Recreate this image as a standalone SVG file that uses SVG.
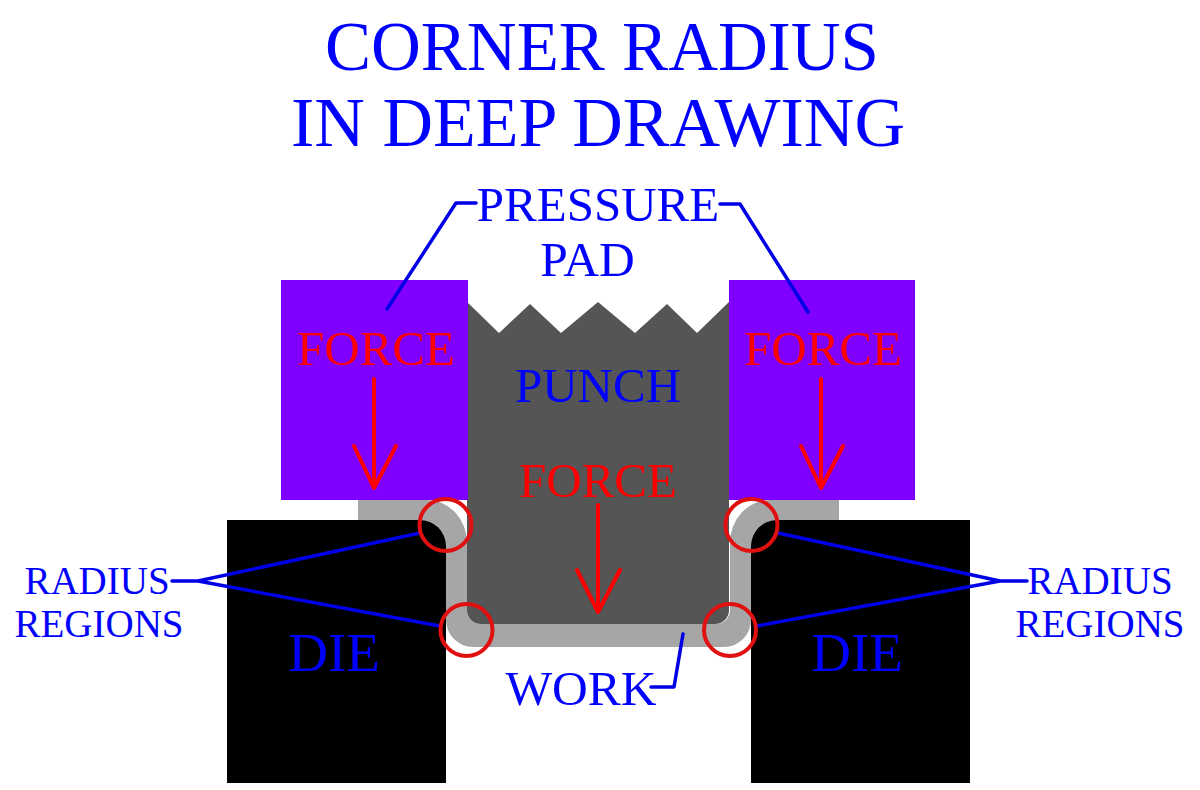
<svg xmlns="http://www.w3.org/2000/svg" width="1200" height="790" viewBox="0 0 1200 790">
<style>
text{font-family:"Liberation Serif","Times New Roman",serif;text-anchor:middle}
.b{fill:#0000ff}.r{fill:#ff0000}
.t1{font-size:69px}.t2{font-size:70px}.m{font-size:49px}.l{font-size:55px}.w{font-size:49.5px}.s{font-size:39px}
.lead{fill:none;stroke:#0000e6;stroke-width:3.5;stroke-linecap:round;stroke-linejoin:round}
.arrow{fill:none;stroke:#ff0000;stroke-width:4;stroke-linecap:round;stroke-linejoin:round}
.ring{fill:none;stroke:#e01010;stroke-width:4}
</style>
<rect width="1200" height="790" fill="#fff"/>
<g id="title"><text class="t1 b" x="602" y="70">CORNER RADIUS</text><text class="t2 b" x="598" y="146">IN DEEP DRAWING</text></g>
<g id="work"><path d="M358 500H427A40 43 0 0 1 467 543V610A14 14 0 0 0 481 624H716A14 14 0 0 0 730 610V543A40 43 0 0 1 770 500H839V520H777A26 26 0 0 0 751 546V620A27 27 0 0 1 724 647H473A27 27 0 0 1 446 620V546A26 26 0 0 0 420 520H358Z" fill="#a6a6a6"/></g>
<g id="punch"><path d="M467 302L499 333L530 304L561 333L598 302L635 333L667 304L697 333L729 302V610A14 14 0 0 1 715 624H481A14 14 0 0 1 467 610Z" fill="#555"/><text class="m b" x="598" y="402">PUNCH</text></g>
<g id="pad-left"><rect x="281" y="280" width="187" height="220" fill="#7f00ff"/></g>
<g id="pad-right"><rect x="729" y="280" width="186" height="220" fill="#7f00ff"/></g>
<g id="die-left"><path d="M227 520H420A26 26 0 0 1 446 546V783H227Z" fill="#000"/><text class="l b" x="334" y="671">DIE</text></g>
<g id="die-right"><path d="M970 520H777A26 26 0 0 0 751 546V783H970Z" fill="#000"/><text class="l b" x="857" y="671">DIE</text></g>
<g id="connectors">
<path class="lead" d="M387 309L456 203H476M808 312L740 204H720M172 581H198L420 533M198 581L440 626M1027 581H1000L778 533M1000 581L757 626M651 687H674L683 634"/>
<path class="arrow" d="M374 379V488M354 446L374 488L396 446M821 379V488M801 446L821 488L843 446M598 505V612M577 570L598 612L620 570"/>
</g>
<g id="radius-rings"><circle class="ring" cx="445.5" cy="525" r="26"/><circle class="ring" cx="466.5" cy="630" r="26"/><circle class="ring" cx="751.5" cy="525" r="26"/><circle class="ring" cx="730" cy="630" r="26"/></g>
<g id="labels">
<text class="m b" x="598" y="221">PRESSURE</text><text class="w b" x="587.5" y="276">PAD</text>
<text class="m r" x="376" y="365">FORCE</text><text class="m r" x="823" y="365">FORCE</text><text class="m r" x="598" y="497">FORCE</text>
<text class="s b" x="97" y="594">RADIUS</text><text class="s b" x="99" y="637">REGIONS</text>
<text class="s b" x="1100" y="594">RADIUS</text><text class="s b" x="1100" y="637">REGIONS</text>
<text class="w b" x="581" y="705">WORK</text>
</g>
</svg>
